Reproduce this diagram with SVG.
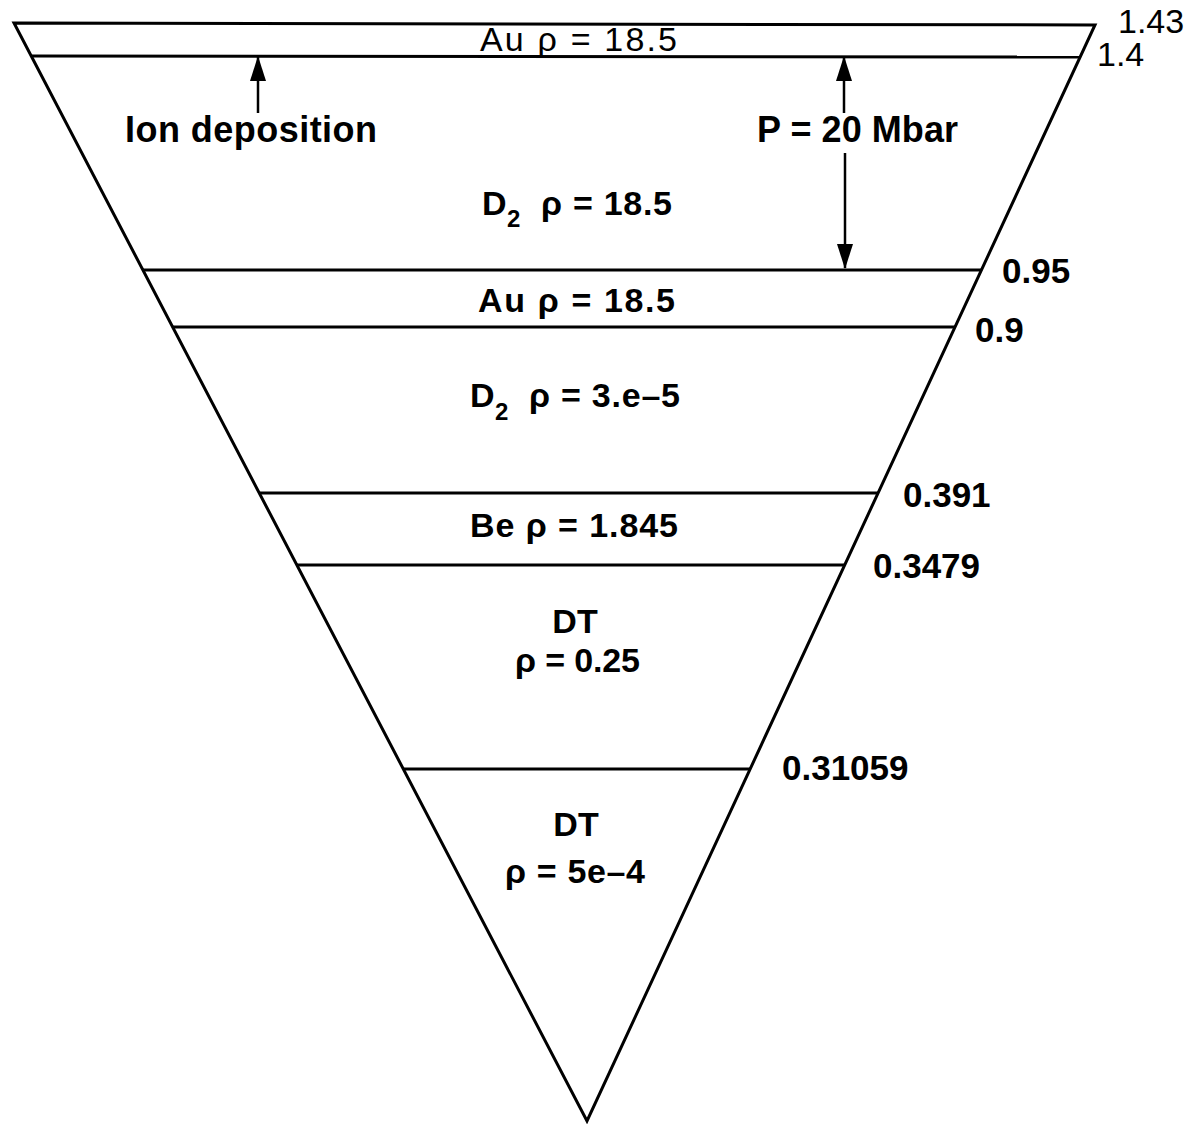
<svg xmlns="http://www.w3.org/2000/svg" width="1203" height="1124" viewBox="0 0 1203 1124">
<style>
.edge{stroke:#000;stroke-width:3;fill:none;stroke-linejoin:miter}
.layer{stroke:#000;stroke-width:3}
.arr{stroke:#000;stroke-width:2.5;fill:none}
.lbl{font-family:"Liberation Sans",Arial,sans-serif;font-weight:bold;font-size:34px;fill:#000}
.big{font-size:36px}
.sub{font-size:24px}
.num{font-family:"Liberation Sans",Arial,sans-serif;font-weight:bold;font-size:35px;fill:#000}
.thin{font-family:"Liberation Sans",Arial,sans-serif;font-weight:normal;font-size:34px;fill:#000}
</style>
<defs>
<marker id="ah" viewBox="0 0 25 16" refX="24" refY="8" markerWidth="25" markerHeight="16" markerUnits="userSpaceOnUse" orient="auto">
<path d="M0,0 L25,8 L0,16 z" fill="#000"/>
</marker>
</defs>
<rect width="1203" height="1124" fill="#fff"/>
<g id="triangle">
<path class="edge" d="M14,23 L1095,25 L587,1121 Z"/>
</g>
<g id="layers">
<line class="layer" x1="31" y1="56" x2="1080" y2="57"/>
<line class="layer" x1="143" y1="270" x2="981" y2="270"/>
<line class="layer" x1="172" y1="327" x2="955" y2="327"/>
<line class="layer" x1="259" y1="493" x2="878" y2="493"/>
<line class="layer" x1="297" y1="565" x2="844" y2="565"/>
<line class="layer" x1="404" y1="769" x2="750" y2="769"/>
</g>
<g id="connectors">
<line class="arr" x1="258" y1="113" x2="258" y2="57" marker-end="url(#ah)"/>
<line class="arr" x1="844" y1="113" x2="844" y2="57" marker-end="url(#ah)"/>
<line class="arr" x1="845" y1="153" x2="845" y2="268" marker-end="url(#ah)"/>
</g>
<g id="au-outer"><text class="thin" x="480" y="51" textLength="197" lengthAdjust="spacing">Au ρ = 18.5</text></g>
<g id="ion-deposition"><text class="lbl big" x="125" y="142" textLength="252" lengthAdjust="spacing">Ion deposition</text></g>
<g id="pressure"><text class="lbl big" x="757" y="142" textLength="201" lengthAdjust="spacing">P = 20 Mbar</text></g>
<g id="d2-outer">
<text class="lbl" x="482" y="215">D</text>
<text class="lbl sub" x="507" y="227">2</text>
<text class="lbl" x="541" y="215" textLength="131" lengthAdjust="spacing">ρ = 18.5</text>
</g>
<g id="au-inner"><text class="lbl" x="478" y="312" textLength="197" lengthAdjust="spacing">Au  ρ = 18.5</text></g>
<g id="d2-inner">
<text class="lbl" x="470" y="407">D</text>
<text class="lbl sub" x="495" y="420">2</text>
<text class="lbl" x="529" y="407" textLength="151" lengthAdjust="spacing">ρ = 3.e–5</text>
</g>
<g id="be"><text class="lbl" x="470" y="537" textLength="208" lengthAdjust="spacing">Be  ρ = 1.845</text></g>
<g id="dt-outer">
<text class="lbl" x="575" y="633" text-anchor="middle">DT</text>
<text class="lbl" x="515" y="672" textLength="125" lengthAdjust="spacing">ρ = 0.25</text>
</g>
<g id="dt-inner">
<text class="lbl" x="576" y="836" text-anchor="middle">DT</text>
<text class="lbl" x="505" y="883" textLength="140" lengthAdjust="spacing">ρ = 5e–4</text>
</g>
<g id="radii">
<text class="thin" x="1118" y="33">1.43</text>
<text class="thin" x="1097" y="66">1.4</text>
<text class="num" x="1002" y="283">0.95</text>
<text class="num" x="975" y="342">0.9</text>
<text class="num" x="903" y="507">0.391</text>
<text class="num" x="873" y="578">0.3479</text>
<text class="num" x="782" y="780">0.31059</text>
</g>
</svg>
